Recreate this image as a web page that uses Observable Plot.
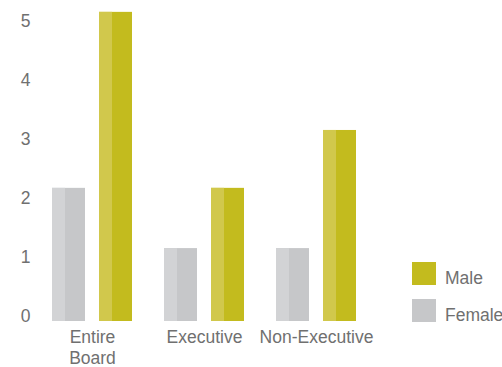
<!DOCTYPE html>
<html>
<head>
<meta charset="utf-8">
<script src="https://cdn.jsdelivr.net/npm/d3@7"></script>
<script src="https://cdn.jsdelivr.net/npm/@observablehq/plot@0.6"></script>
<style>
  html, body { margin: 0; padding: 0; background: #fff; }
  #wrap { position: relative; width: 502px; height: 367px; overflow: hidden; font-family: "Liberation Sans", Arial, Helvetica, sans-serif; }
  .sw { position: absolute; width: 24px; height: 23px; }
  .lt { position: absolute; font-size: 17.5px; line-height: 23px; color: #707070; white-space: nowrap; }
</style>
</head>
<body>
<div id="wrap"></div>
<script>
const categories = ["Entire Board", "Executive", "Non-Executive"];
const genders = ["Female", "Male"];
const female = [2.17, 1.15, 1.15];
const male = [5.15, 2.17, 3.15];
const yTicks = [0, 1, 2, 3, 4, 5];
const darkColors = ["#c6c7c9", "#c3bb1e"];
const lightColors = ["#d2d3d5", "#d1c84c"];
const legendItems = ["Male", "Female"];

const rows = [];
categories.forEach((c, i) => {
  rows.push({category: c, gender: "Female", value: female[i]});
  rows.push({category: c, gender: "Male", value: male[i]});
});

const darkOf = g => darkColors[genders.indexOf(g)];
const lightOf = g => lightColors[genders.indexOf(g)];

const chart = Plot.plot({
  width: 502,
  height: 367,
  marginLeft: 50,
  marginRight: 143.5,
  marginTop: 3,
  marginBottom: 51,
  style: {fontFamily: "'Liberation Sans', Arial, Helvetica, sans-serif", fontSize: "17.5px", color: "#707070", background: "transparent"},
  fx: {domain: categories, paddingInner: 0.264, paddingOuter: 0, label: null},
  x: {domain: genders, paddingInner: 0.29, paddingOuter: 0, axis: null},
  y: {domain: [0, 5.3], label: null},
  marks: [
    Plot.barY(rows, {fx: "category", x: "gender", y: "value", fill: d => darkOf(d.gender), insetBottom: -5}),
    Plot.barY(rows, {fx: "category", x: "gender", y: "value", fill: d => lightOf(d.gender), insetBottom: -5, insetRight: 20}),
    Plot.axisY({ticks: yTicks, tickSize: 0, tickPadding: 21, label: null, fontSize: 17.5, tickFormat: d => String(d)}),
    Plot.axisFx({anchor: "bottom", tickSize: 0, tickPadding: 12, label: null, fontSize: 17.5, lineHeight: 1.17, tickFormat: d => d.replace(" ", "\n")})
  ]
});

const wrap = document.getElementById("wrap");
wrap.appendChild(chart);

legendItems.forEach((name, i) => {
  const top = 262 + i * 37;
  const sw = document.createElement("div");
  sw.className = "sw";
  sw.style.left = "412px";
  sw.style.top = top + "px";
  sw.style.background = darkOf(name);
  wrap.appendChild(sw);
  const t = document.createElement("div");
  t.className = "lt";
  t.style.left = "445px";
  t.style.top = (top + 5.4) + "px";
  t.textContent = name;
  wrap.appendChild(t);
});
</script>
</body>
</html>
